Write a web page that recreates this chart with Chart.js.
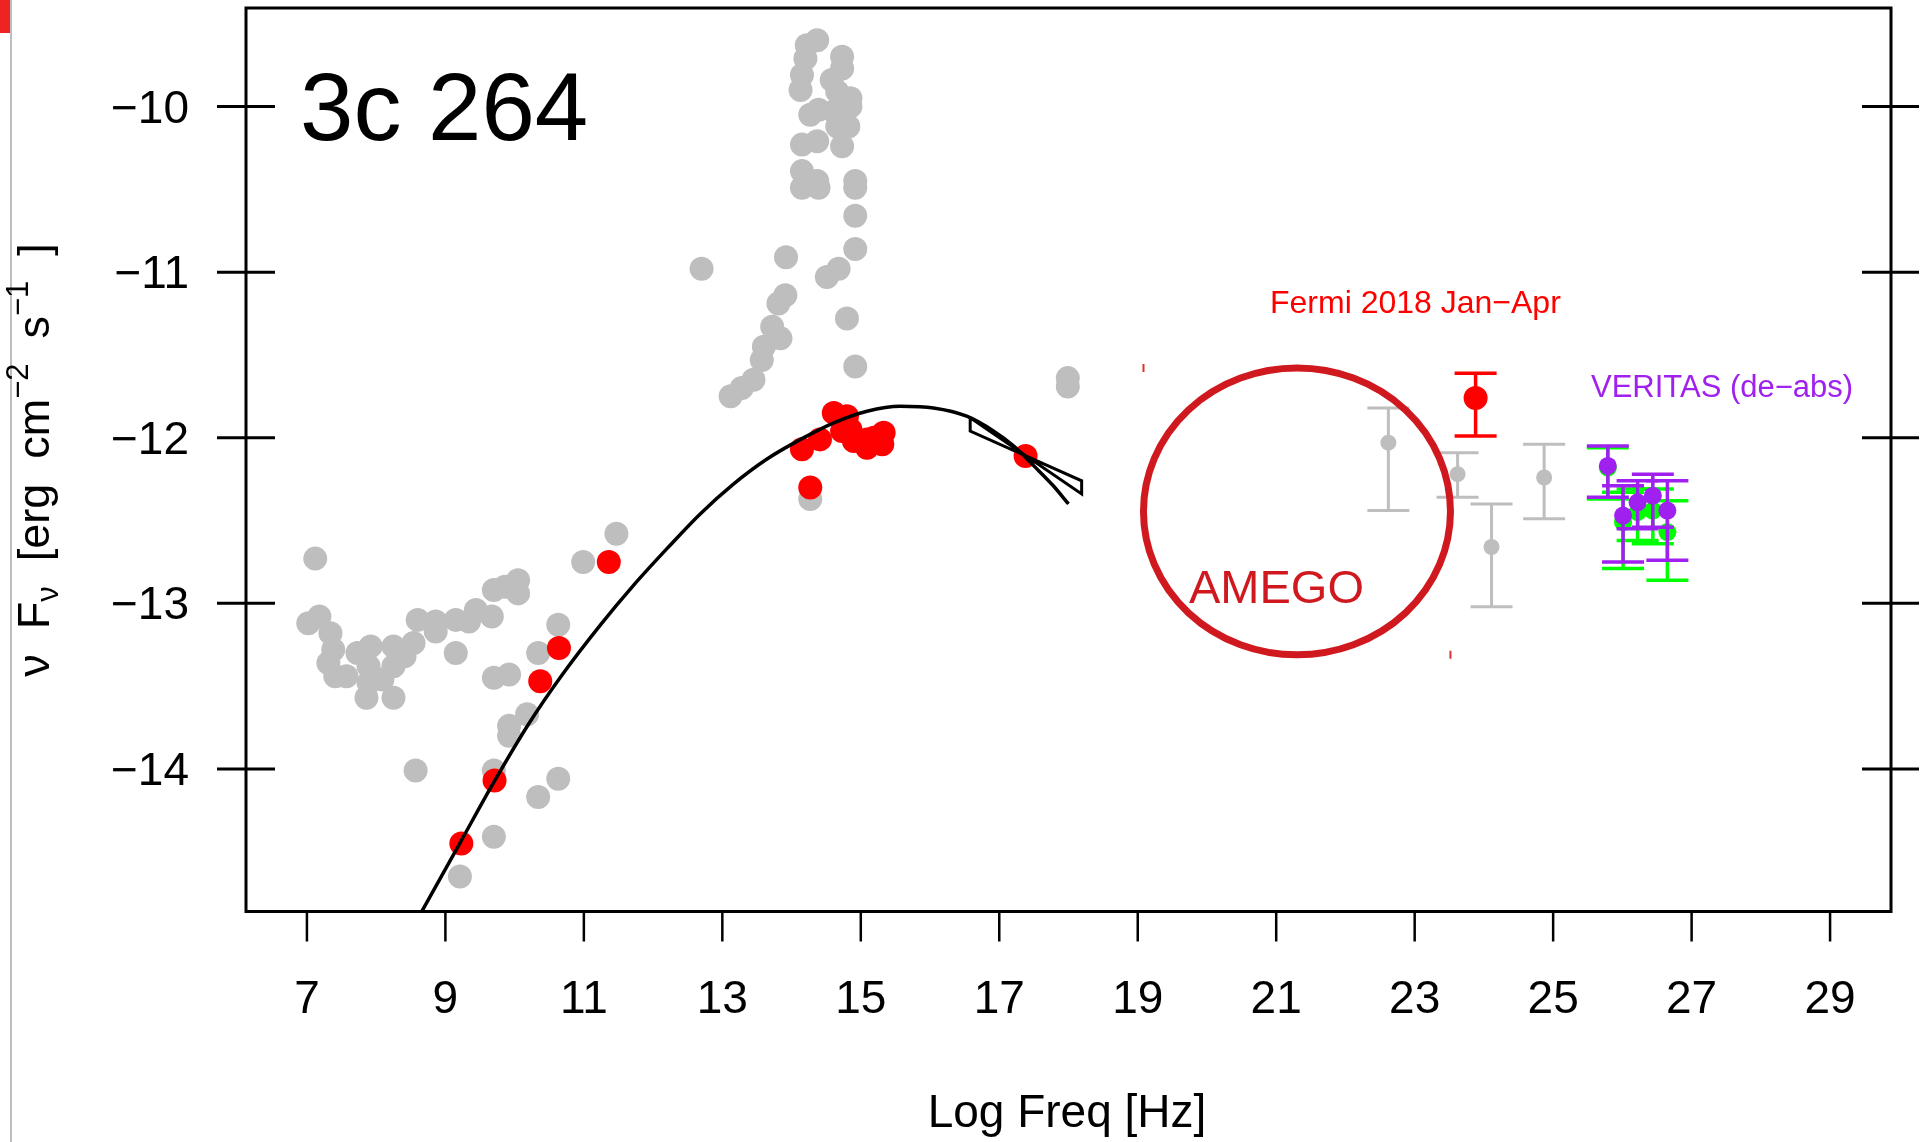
<!DOCTYPE html>
<html>
<head>
<meta charset="utf-8">
<title>3c 264 SED</title>
<script src="https://cdn.jsdelivr.net/npm/chart.js@4.4.1/dist/chart.umd.min.js"></script>
<style>
  html, body { margin: 0; padding: 0; background: #fff; }
  canvas { display: block; }
</style>
</head>
<body>
<canvas id="sed" width="1930" height="1142"></canvas>
<script>
// axis ticks
const xTicks = [7, 9, 11, 13, 15, 17, 19, 21, 23, 25, 27, 29];
const yTicks = [-10, -11, -12, -13, -14];

// archival SED points (grey)
const archX = [7.12, 7.02, 7.18, 7.34, 7.38, 7.31, 7.41, 7.57, 7.73, 7.92, 7.89, 7.89, 7.86, 8.09, 8.25, 8.25, 8.25, 8.41,
  8.54, 8.60, 8.86, 8.86, 9.15, 9.15, 9.34, 9.44, 9.67, 9.70, 9.86, 10.05, 10.05, 10.63, 10.34, 9.70, 9.92, 10.18, 9.92,
  9.92, 8.57, 9.70, 10.63, 10.34, 9.70, 9.21, 10.99, 11.47,
  12.70, 14.37, 14.22, 14.20, 14.15, 14.13, 14.73, 14.73, 14.58, 14.66, 14.85, 14.85, 14.61, 14.27, 14.39, 14.82, 14.66,
  14.15, 14.37, 14.73, 14.15, 14.15, 14.37, 14.39, 14.92, 14.92, 14.92, 14.92, 13.92, 14.68, 14.51, 13.91, 13.81, 13.84,
  13.72, 13.60, 13.57, 13.45, 13.28, 13.12, 14.80, 14.92, 14.27, 17.99, 17.99];
const archY = [-12.73, -13.12, -13.08, -13.18, -13.28, -13.36, -13.44, -13.44, -13.30, -13.26, -13.38, -13.48, -13.57, -13.46,
  -13.26, -13.38, -13.57, -13.32, -13.24, -13.10, -13.11, -13.17, -13.10, -13.30, -13.11, -13.04, -13.08, -12.92, -12.90,
  -12.86, -12.94, -13.13, -13.30, -13.45, -13.43, -13.67, -13.74, -13.80, -14.01, -14.01, -14.06, -14.17, -14.41, -14.65,
  -12.75, -12.58,
  -10.98, -9.60, -9.63, -9.71, -9.81, -9.90, -9.70, -9.77, -9.84, -9.91, -9.95, -10.00, -10.03, -10.05, -10.02, -10.12,
  -10.12, -10.23, -10.21, -10.24, -10.39, -10.49, -10.45, -10.49, -10.45, -10.49, -10.66, -10.86, -10.91, -10.98, -11.03,
  -11.14, -11.19, -11.40, -11.33, -11.45, -11.53, -11.65, -11.70, -11.75, -11.28, -11.57, -12.37, -11.64, -11.69];

// simultaneous SED points (red)
const simX = [9.23, 9.71, 10.37, 10.64, 11.36, 14.15, 14.41, 14.61, 14.80, 14.85, 14.73, 14.90, 15.09, 15.09, 15.19,
  15.33, 15.31, 14.27, 17.38];
const simY = [-14.45, -14.07, -13.47, -13.27, -12.75, -12.07, -12.01, -11.85, -11.87, -11.95, -11.96, -12.02, -12.01,
  -12.06, -12.00, -11.97, -12.04, -12.30, -12.11];

// synchrotron model curve
const modelX = [8.66, 9.22, 9.70, 10.20, 10.69, 11.24, 11.72, 12.20, 12.68, 13.16, 13.64, 14.13, 14.61, 15.09, 15.57,
  16.05, 16.53, 16.92, 17.21, 17.50, 17.78, 18.00];
const modelY = [-14.86, -14.44, -14.08, -13.73, -13.43, -13.13, -12.89, -12.67, -12.46, -12.28, -12.13, -12.01, -11.91,
  -11.84, -11.81, -11.82, -11.87, -11.96, -12.05, -12.17, -12.29, -12.40];

// X-ray bowtie
const bowX = [16.58, 18.19, 18.19, 16.58, 16.58];
const bowY = [-11.88, -12.34, -12.26, -11.96, -11.88];

// archival gamma-ray points with errors (grey)
const gamX = [22.62, 23.62, 24.11, 24.87];
const gamY = [-12.03, -12.22, -12.66, -12.24];
const gamLo = [-12.44, -12.36, -13.02, -12.49];
const gamHi = [-11.82, -12.09, -12.40, -12.04];

// Fermi 2018 Jan-Apr
const fermiX = [23.88];
const fermiY = [-11.76];
const fermiLo = [-11.99];
const fermiHi = [-11.61];

// VERITAS observed (green) and de-absorbed (purple)
const verX = [25.79, 26.01, 26.22, 26.44, 26.65];
const verObsY = [-12.18, -12.51, -12.45, -12.44, -12.57];
const verObsLo = [-12.37, -12.79, -12.62, -12.64, -12.86];
const verObsHi = [-12.06, -12.33, -12.31, -12.31, -12.38];
const verDeY = [-12.17, -12.47, -12.39, -12.35, -12.44];
const verDeLo = [-12.36, -12.75, -12.55, -12.54, -12.74];
const verDeHi = [-12.05, -12.29, -12.26, -12.22, -12.26];

// AMEGO sensitivity region: centre and half-axes in data units
const amegoCenter = [21.30, -12.445];
const amegoRadius = [2.217, 0.866];

const FONT = '"Liberation Sans", Arial, Helvetica, sans-serif';

function pts(xs, ys) {
  return xs.map((x, i) => ({ x: x, y: ys[i] }));
}

function scatterSet(xs, ys, color, r, order, lo, hi, lw) {
  return {
    data: pts(xs, ys),
    backgroundColor: color,
    borderWidth: 0,
    pointRadius: r,
    pointHoverRadius: r,
    order: order,
    errLo: lo,
    errHi: hi,
    errColor: color,
    errWidth: lw || 3
  };
}

// vertical error bars with caps, drawn just before each dataset's points
const errorBars = {
  id: 'errorBars',
  beforeDatasetDraw(chart, args) {
    const ds = chart.data.datasets[args.index];
    if (!ds.errLo) return;
    const { ctx, scales: { x, y } } = chart;
    const cap = 21;
    ctx.save();
    ctx.strokeStyle = ds.errColor;
    ctx.lineWidth = ds.errWidth;
    ctx.lineCap = 'butt';
    ds.data.forEach((p, i) => {
      const px = x.getPixelForValue(p.x);
      const yl = y.getPixelForValue(ds.errLo[i]);
      const yh = y.getPixelForValue(ds.errHi[i]);
      ctx.beginPath();
      ctx.moveTo(px, yl); ctx.lineTo(px, yh);
      ctx.moveTo(px - cap, yl); ctx.lineTo(px + cap, yl);
      ctx.moveTo(px - cap, yh); ctx.lineTo(px + cap, yh);
      ctx.stroke();
    });
    ctx.restore();
  }
};

const amego = {
  id: 'amego',
  afterDatasetsDraw(chart) {
    const { ctx, scales: { x, y } } = chart;
    const cx = x.getPixelForValue(amegoCenter[0]);
    const cy = y.getPixelForValue(amegoCenter[1]);
    const x0 = x.getPixelForValue(amegoCenter[0] - amegoRadius[0]);
    const x1 = x.getPixelForValue(amegoCenter[0] + amegoRadius[0]);
    const y0 = y.getPixelForValue(amegoCenter[1] + amegoRadius[1]);
    const y1 = y.getPixelForValue(amegoCenter[1] - amegoRadius[1]);
    ctx.save();
    ctx.strokeStyle = '#D0181F';
    ctx.lineWidth = 7;
    ctx.beginPath();
    ctx.ellipse(cx, cy, (x1 - x0) / 2, (y1 - y0) / 2, 0, 0, Math.PI * 2);
    ctx.stroke();
    // small corner marks of the bounding box
    ctx.lineWidth = 2;
    ctx.strokeStyle = '#E03030';
    ctx.beginPath();
    ctx.moveTo(x0, y0 - 4); ctx.lineTo(x0, y0 + 4);
    ctx.moveTo(x1, y1 - 4); ctx.lineTo(x1, y1 + 4);
    ctx.stroke();
    ctx.fillStyle = '#D0181F';
    ctx.font = '47px ' + FONT;
    ctx.textAlign = 'left';
    ctx.textBaseline = 'alphabetic';
    ctx.fillText('AMEGO', 1189, 603);
    ctx.restore();
  }
};

const frame = {
  id: 'frame',
  beforeDraw(chart) {
    const ctx = chart.ctx;
    ctx.save();
    ctx.fillStyle = '#fff';
    ctx.fillRect(0, 0, chart.width, chart.height);
    ctx.fillStyle = '#EE2424';
    ctx.fillRect(0, 0, 10, 33);
    ctx.fillStyle = '#BDBDBD';
    ctx.fillRect(10, 0, 2, chart.height);
    ctx.restore();
  },
  afterDraw(chart) {
    const { ctx, chartArea: a, scales: { x, y } } = chart;
    ctx.save();
    ctx.strokeStyle = '#000';
    ctx.lineWidth = 3;
    ctx.strokeRect(a.left, a.top, a.right - a.left, a.bottom - a.top);

    ctx.fillStyle = '#000';
    ctx.font = '46px ' + FONT;

    // bottom axis
    ctx.lineWidth = 2.5;
    ctx.textAlign = 'center';
    ctx.textBaseline = 'alphabetic';
    xTicks.forEach(v => {
      const px = x.getPixelForValue(v);
      ctx.beginPath();
      ctx.moveTo(px, a.bottom); ctx.lineTo(px, a.bottom + 30);
      ctx.stroke();
      ctx.fillText(String(v), px, 1013);
    });

    // left and right axes, ticks cross the frame
    ctx.lineWidth = 3;
    ctx.textAlign = 'right';
    yTicks.forEach(v => {
      const py = y.getPixelForValue(v);
      ctx.beginPath();
      ctx.moveTo(a.left - 29, py); ctx.lineTo(a.left + 29, py);
      ctx.moveTo(a.right - 29, py); ctx.lineTo(a.right + 28, py);
      ctx.stroke();
      ctx.fillText('\u2212' + Math.abs(v), 189, py + 16);
    });

    // axis titles
    ctx.textAlign = 'center';
    ctx.fillText('Log Freq [Hz]', 1067, 1127);

    ctx.save();
    ctx.translate(49, 460);
    ctx.rotate(-Math.PI / 2);
    ctx.textAlign = 'left';
    const parts = [
      ['\u03bd', 45, 0], ['  F', 45, 0], ['\u03bd', 31, 9], ['  [erg  cm', 45, 0],
      ['\u22122', 31, -21], ['  s', 45, 0], ['\u22121', 31, -21], ['  ]', 45, 0]
    ];
    let total = 0;
    parts.forEach(p => { ctx.font = p[1] + 'px ' + FONT; total += ctx.measureText(p[0]).width; });
    let cur = -total / 2;
    parts.forEach(p => {
      ctx.font = p[1] + 'px ' + FONT;
      ctx.fillText(p[0], cur, p[2]);
      cur += ctx.measureText(p[0]).width;
    });
    ctx.restore();

    // source name
    ctx.textAlign = 'left';
    ctx.font = '96px ' + FONT;
    ctx.fillText('3c 264', 300, 140);

    // instrument labels
    ctx.font = '32px ' + FONT;
    ctx.fillStyle = '#FF0000';
    ctx.fillText('Fermi 2018 Jan\u2212Apr', 1270, 313);
    ctx.font = '31px ' + FONT;
    ctx.fillStyle = '#A020F0';
    ctx.fillText('VERITAS (de\u2212abs)', 1591, 397);
    ctx.restore();
  }
};

const ctx = document.getElementById('sed').getContext('2d');
new Chart(ctx, {
  type: 'scatter',
  data: {
    datasets: [
      scatterSet(archX, archY, '#BEBEBE', 12, 9),
      scatterSet(simX, simY, '#FF0000', 12, 8),
      {
        data: pts(modelX, modelY),
        showLine: true,
        borderColor: '#000',
        borderWidth: 3.5,
        pointRadius: 0,
        cubicInterpolationMode: 'monotone',
        fill: false,
        order: 7
      },
      {
        data: pts(bowX, bowY),
        showLine: true,
        borderColor: '#000',
        borderWidth: 3,
        borderJoinStyle: 'miter',
        pointRadius: 0,
        tension: 0,
        fill: false,
        order: 6
      },
      scatterSet(gamX, gamY, '#BEBEBE', 8, 5, gamLo, gamHi, 3),
      scatterSet(fermiX, fermiY, '#FF0000', 12, 4, fermiLo, fermiHi, 3.5),
      scatterSet(verX, verObsY, '#00FF00', 9, 3, verObsLo, verObsHi, 3.5),
      scatterSet(verX, verDeY, '#A020F0', 9, 2, verDeLo, verDeHi, 3.5)
    ]
  },
  options: {
    responsive: false,
    animation: false,
    events: [],
    layout: { autoPadding: false, padding: { left: 246, right: 39, top: 8, bottom: 230.5 } },
    scales: {
      x: { type: 'linear', min: 6.12, max: 29.88, display: false },
      y: { type: 'linear', min: -14.861, max: -9.405, display: false }
    },
    plugins: {
      legend: { display: false },
      tooltip: { enabled: false }
    }
  },
  plugins: [frame, errorBars, amego]
});
</script>
</body>
</html>
